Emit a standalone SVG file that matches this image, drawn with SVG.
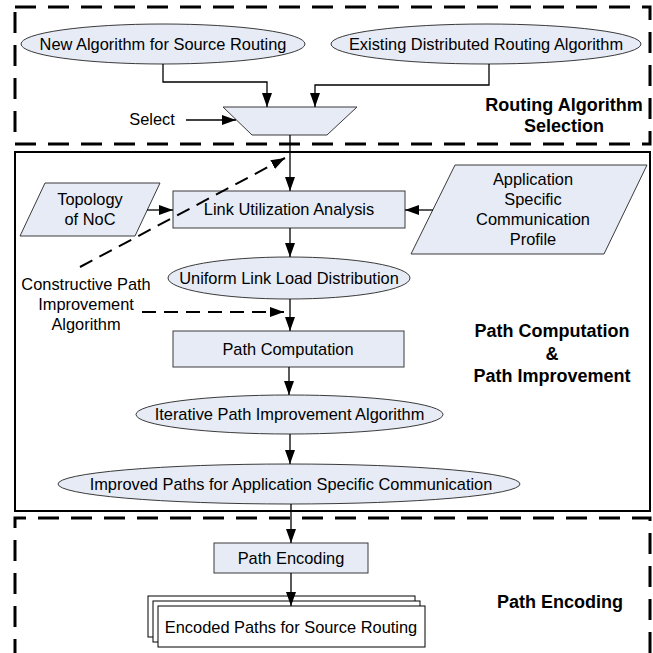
<svg xmlns="http://www.w3.org/2000/svg" width="653" height="653" viewBox="0 0 653 653">
<style>
.sec{fill:none;stroke:#000;stroke-width:3;stroke-dasharray:21 12}
.frame{fill:none;stroke:#000;stroke-width:2}
.node{fill:#e6ebf5;stroke:#3a3a3a;stroke-width:1}
.doc{fill:#fff;stroke:#000;stroke-width:1}
.t{font-family:"Liberation Sans",Arial,sans-serif;font-size:16.4px;fill:#000;text-anchor:middle}
.b{font-family:"Liberation Sans",Arial,sans-serif;font-size:18px;font-weight:bold;fill:#000;text-anchor:middle}
.c{fill:none;stroke:#000;stroke-width:1.3}
.d{fill:none;stroke:#000;stroke-width:2;stroke-dasharray:14 8}
</style>
<defs>
<marker id="ah" markerUnits="userSpaceOnUse" markerWidth="14" markerHeight="10" refX="14" refY="5" orient="auto">
<path d="M0,0 L14,5 L0,10 z" fill="#000"/>
</marker>
</defs>
<rect width="653" height="653" fill="#fff"/>

<g id="sections">
<path class="sec" d="M15,7 H650 V144 H15 Z"/>
<rect class="frame" x="15" y="152" width="635" height="359"/>
<path class="sec" d="M15,660 V518 H650 V660"/>
<text class="b" x="564" y="111">Routing Algorithm</text>
<text class="b" x="564" y="132">Selection</text>
<text class="b" x="552" y="337">Path Computation</text>
<text class="b" x="552" y="360">&amp;</text>
<text class="b" x="552" y="382">Path Improvement</text>
<text class="b" x="560" y="608">Path Encoding</text>
</g>

<g id="n-new">
<ellipse class="node" cx="163" cy="44" rx="142" ry="20"/>
<text class="t" x="163" y="50">New Algorithm for Source Routing</text>
</g>
<g id="n-existing">
<ellipse class="node" cx="486" cy="44" rx="155" ry="20"/>
<text class="t" x="486" y="50">Existing Distributed Routing Algorithm</text>
</g>
<g id="n-select">
<polygon class="node" points="223,107 357,107 327,135 252,135"/>
</g>
<g id="l-select">
<text class="t" x="152" y="125">Select</text>
</g>
<g id="n-topology">
<polygon class="node" points="45,183 160,183 135,236 20,236"/>
<text class="t" x="90" y="205">Topology</text>
<text class="t" x="90" y="225">of NoC</text>
</g>
<g id="n-link">
<rect class="node" x="173" y="191" width="232" height="37"/>
<text class="t" x="289" y="215">Link Utilization Analysis</text>
</g>
<g id="n-app">
<polygon class="node" points="455,165 647,165 604,254 411,254"/>
<text class="t" x="533" y="185">Application</text>
<text class="t" x="533" y="205">Specific</text>
<text class="t" x="533" y="225">Communication</text>
<text class="t" x="533" y="245">Profile</text>
</g>
<g id="n-uniform">
<ellipse class="node" cx="289" cy="278" rx="121" ry="21"/>
<text class="t" x="289" y="284">Uniform Link Load Distribution</text>
</g>
<g id="l-constructive">
<text class="t" x="86" y="290">Constructive Path</text>
<text class="t" x="86" y="310">Improvement</text>
<text class="t" x="86" y="330">Algorithm</text>
</g>
<g id="n-pathcomp">
<rect class="node" x="173" y="331" width="231" height="36"/>
<text class="t" x="288" y="355">Path Computation</text>
</g>
<g id="n-iterative">
<ellipse class="node" cx="289.5" cy="414.5" rx="153.5" ry="19.5"/>
<text class="t" x="289.5" y="420">Iterative Path Improvement Algorithm</text>
</g>
<g id="n-improved">
<ellipse class="node" cx="289" cy="484" rx="231" ry="20"/>
<text class="t" x="291" y="490">Improved Paths for Application Specific Communication</text>
</g>
<g id="n-encoding">
<rect class="node" x="214" y="543" width="154" height="30"/>
<text class="t" x="291" y="564">Path Encoding</text>
</g>
<g id="n-encoded">
<rect class="doc" x="148" y="596" width="267" height="41"/>
<rect class="doc" x="153" y="601" width="267" height="41"/>
<rect class="doc" x="158" y="606" width="267" height="41"/>
<text class="t" x="291" y="633">Encoded Paths for Source Routing</text>
</g>

<g id="connectors">
<path class="c" d="M163,64 V82 H267 V107" marker-end="url(#ah)"/>
<path class="c" d="M489,64 V85 H315 V107" marker-end="url(#ah)"/>
<path class="c" d="M186,120 H236" marker-end="url(#ah)"/>
<path class="c" d="M290,135 V191" marker-end="url(#ah)"/>
<path class="c" d="M147,210 H173" marker-end="url(#ah)"/>
<path class="c" d="M433,210 H405" marker-end="url(#ah)"/>
<path class="c" d="M290,228 V257" marker-end="url(#ah)"/>
<path class="c" d="M290,299 V331" marker-end="url(#ah)"/>
<path class="c" d="M289,367 V395" marker-end="url(#ah)"/>
<path class="c" d="M290,434 V464" marker-end="url(#ah)"/>
<path class="c" d="M291,504 V543" marker-end="url(#ah)"/>
<path class="c" d="M291,573 V606" marker-end="url(#ah)"/>
<path class="d" d="M80,267 L285,158" marker-end="url(#ah)"/>
<path class="d" d="M142,312 H284" marker-end="url(#ah)"/>
</g>
</svg>
